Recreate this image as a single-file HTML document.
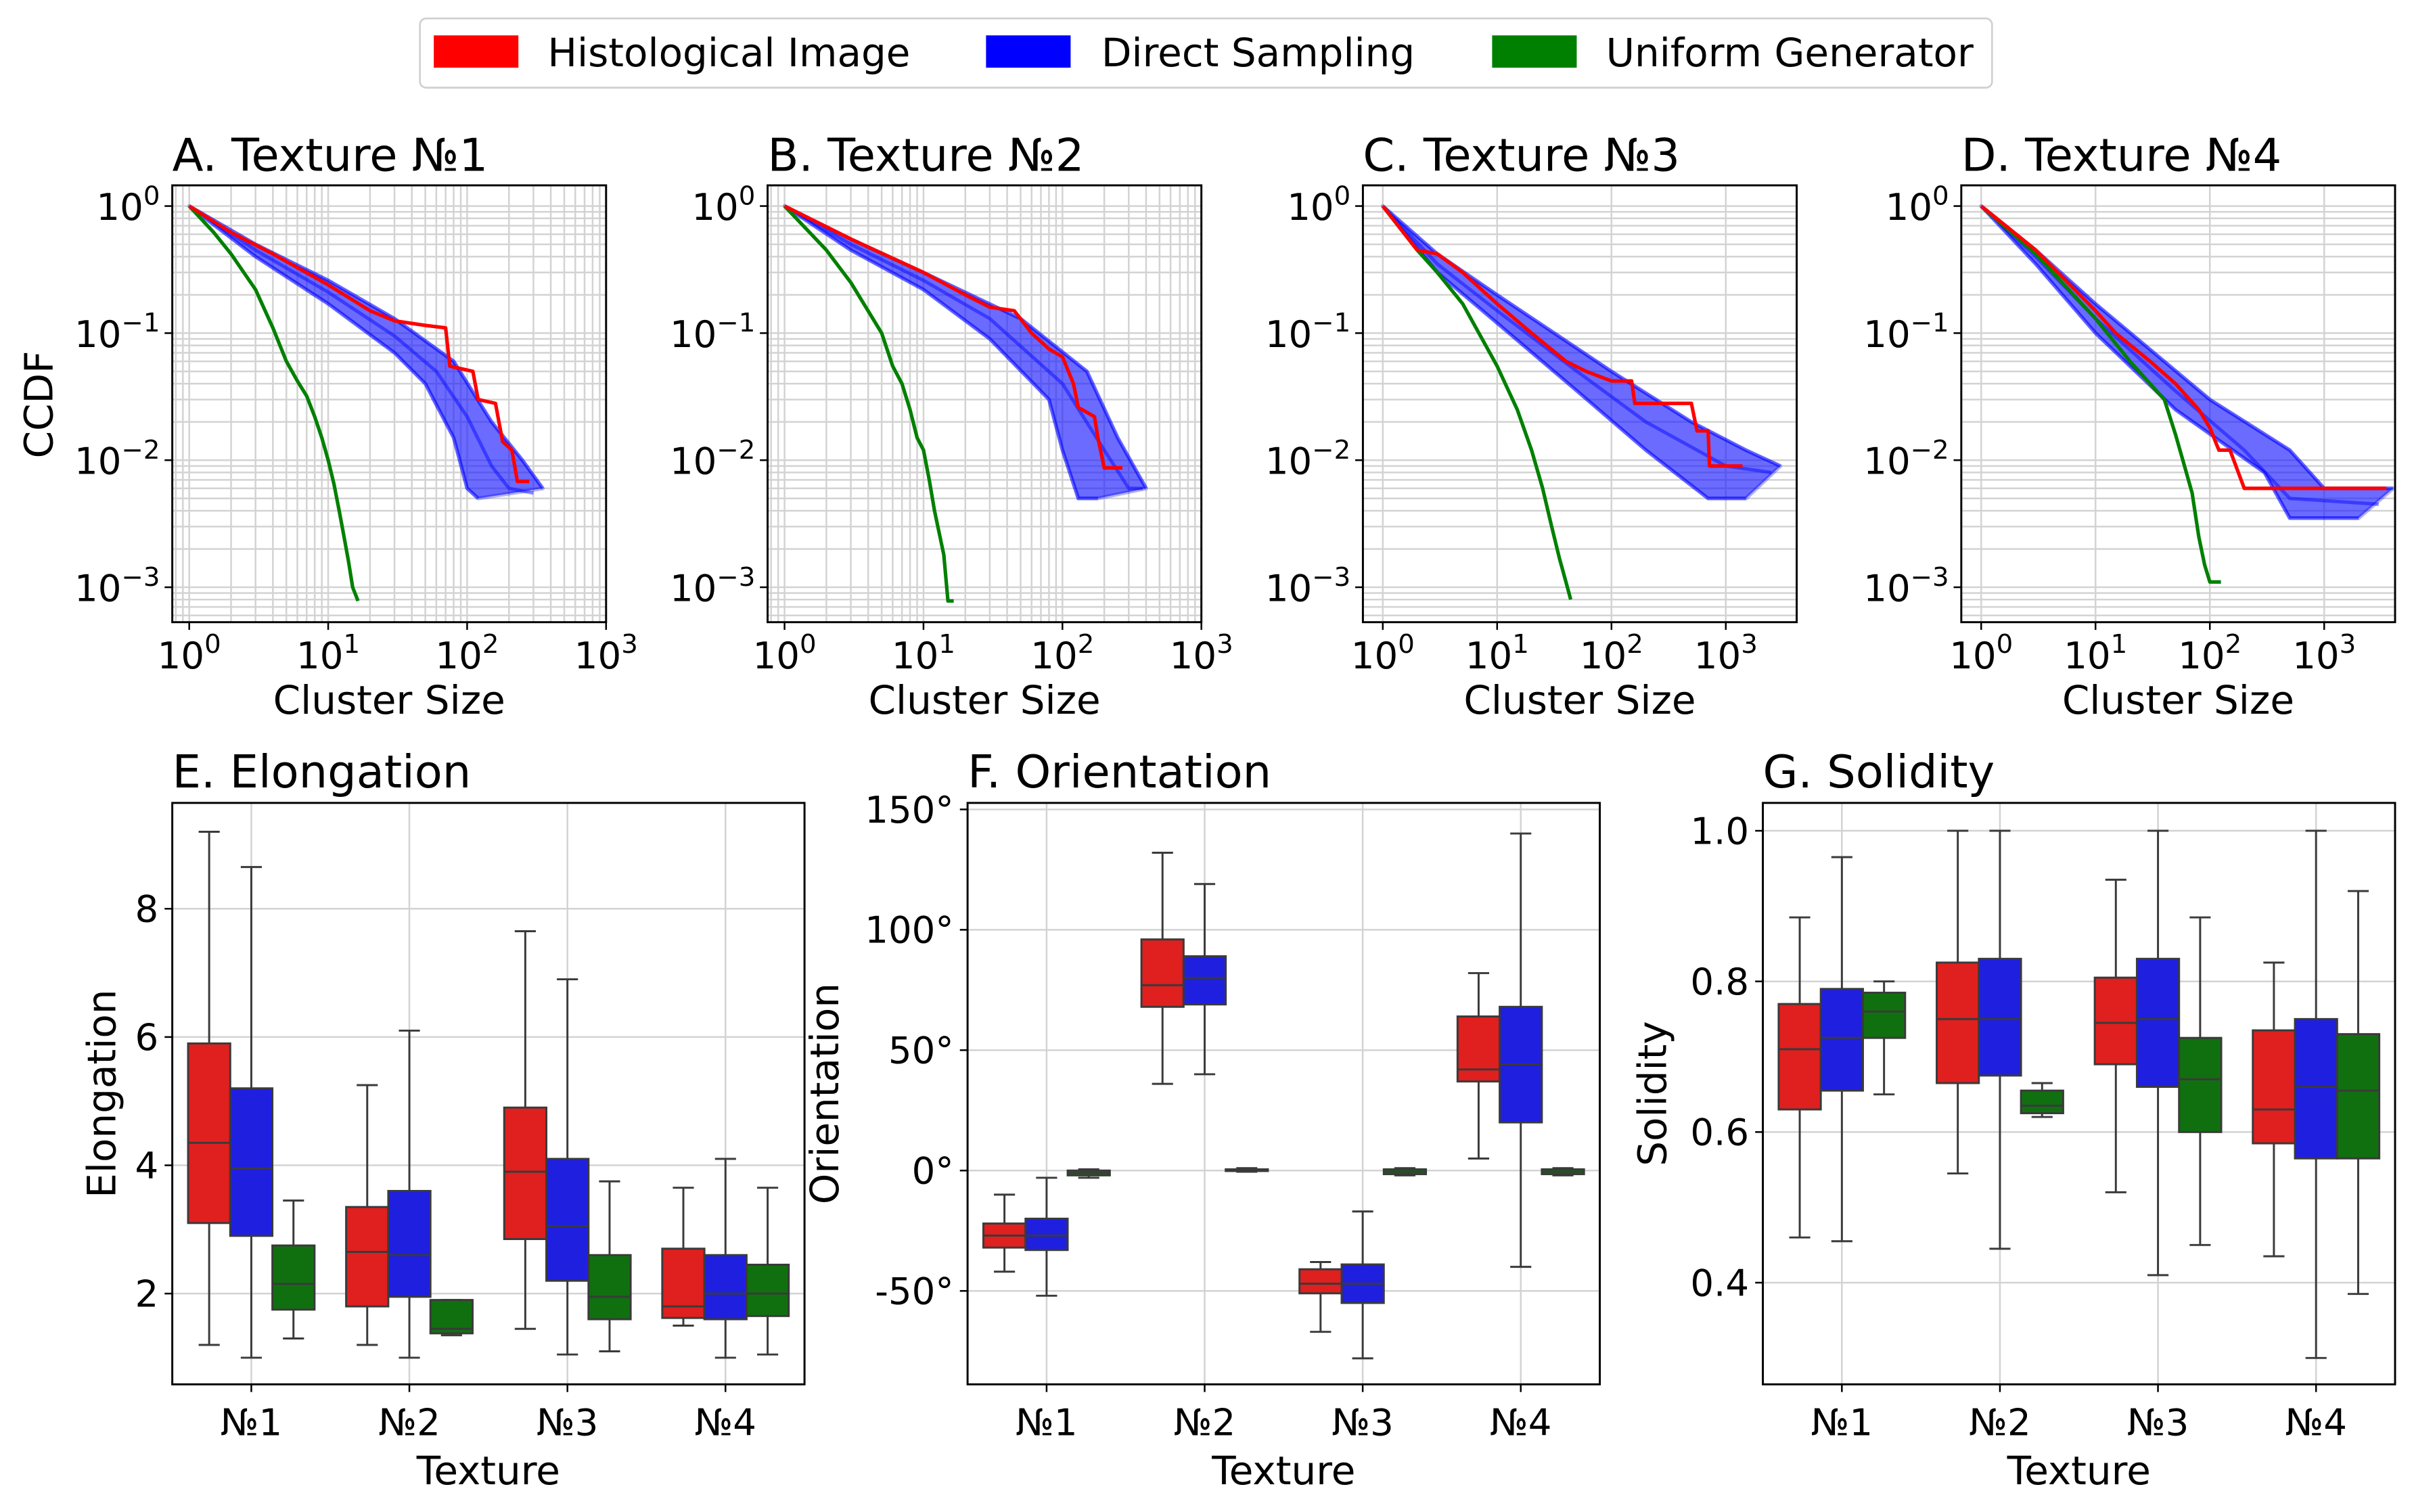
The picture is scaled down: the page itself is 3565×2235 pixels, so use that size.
<!DOCTYPE html>
<html><head><meta charset="utf-8">
<style>
html,body{margin:0;padding:0;background:#fff;}
svg{display:block;font-family:"DejaVu Sans","Liberation Sans",sans-serif;}
</style></head>
<body>
<svg id="fig" width="3565" height="2235" viewBox="0 0 1568 983" preserveAspectRatio="none" xmlns="http://www.w3.org/2000/svg">
<rect x="0" y="0" width="1568" height="983" fill="#fff"/>
<g>
<rect x="273" y="12" width="1022" height="45" rx="4" fill="#fff" stroke="#d0d0d0" stroke-width="1.2"/>
<g><rect x="282" y="23" width="55" height="21" fill="#ff0000"/><text x="356" y="43" font-size="25.5">Histological Image</text></g>
<g><rect x="641" y="23" width="55" height="21" fill="#0000ff"/><text x="716" y="43" font-size="25.5">Direct Sampling</text></g>
<g><rect x="970" y="23" width="55" height="21" fill="#008000"/><text x="1044" y="43" font-size="25.5">Uniform Generator</text></g>
</g>
<g id="plots"></g>
</svg>
<script>
// ---------- CCDF data (cluster size, ccdf) ----------
const ccdfTitles = ["A. Texture №1","B. Texture №2","C. Texture №3","D. Texture №4"];
const redA = [[1,1],[2,0.62],[4,0.42],[10,0.24],[20,0.15],[30,0.125],[50,0.115],[70,0.11],[75,0.055],[110,0.05],[120,0.03],[160,0.028],[180,0.014],[210,0.012],[230,0.0068],[280,0.0068]];
const greenA = [[1,1],[1.5,0.62],[2,0.42],[3,0.22],[4,0.11],[5,0.06],[6,0.042],[7,0.032],[8,0.022],[9,0.015],[10,0.01],[11,0.0065],[12,0.004],[13,0.0025],[14,0.0016],[15,0.001],[16.4,0.00078]];
const blueHiA = [[1,1],[3,0.5],[10,0.26],[30,0.13],[80,0.06],[150,0.02],[250,0.01],[350,0.006]];
const blueMidA = [[1,1],[3,0.45],[10,0.21],[30,0.095],[60,0.05],[100,0.022],[150,0.009],[200,0.006],[300,0.0055]];
const blueLoA = [[1,1],[3,0.4],[10,0.17],[30,0.07],[50,0.04],[80,0.015],[100,0.006],[120,0.005]];

const redB = [[1,1],[3,0.55],[10,0.3],[20,0.2],[30,0.16],[45,0.15],[60,0.1],[80,0.075],[100,0.065],[120,0.04],[130,0.026],[170,0.022],[180,0.015],[200,0.0087],[270,0.0087]];
const greenB = [[1,1],[2,0.45],[3,0.25],[5,0.1],[6,0.055],[7,0.04],[8,0.025],[9,0.015],[10,0.012],[11,0.007],[12,0.004],[14,0.0018],[15,0.00078],[16.5,0.00078]];
const blueHiB = [[1,1],[3,0.55],[10,0.3],[50,0.13],[150,0.05],[250,0.015],[400,0.006]];
const blueMidB = [[1,1],[3,0.5],[10,0.26],[30,0.13],[100,0.04],[200,0.012],[300,0.006],[380,0.006]];
const blueLoB = [[1,1],[3,0.45],[10,0.22],[30,0.09],[80,0.03],[100,0.012],[130,0.005],[180,0.005]];

const redC = [[1,1],[2,0.45],[3,0.42],[5,0.3],[10,0.17],[20,0.1],[40,0.06],[60,0.05],[100,0.042],[150,0.042],[160,0.028],[500,0.028],[560,0.017],[700,0.017],[720,0.009],[1400,0.009]];
const greenC = [[1,1],[2,0.45],[3,0.3],[5,0.17],[10,0.055],[15,0.025],[20,0.012],[25,0.006],[30,0.003],[35,0.0017],[40,0.0011],[44,0.0008]];
const blueHiC = [[1,1],[3,0.42],[10,0.2],[100,0.05],[500,0.02],[1500,0.012],[3000,0.009]];
const blueMidC = [[1,1],[3,0.35],[10,0.15],[50,0.05],[200,0.02],[1000,0.009],[2500,0.008]];
const blueLoC = [[1,1],[3,0.3],[10,0.12],[50,0.035],[200,0.012],[700,0.005],[1500,0.005]];

const redD = [[1,1],[3,0.45],[10,0.15],[15,0.1],[30,0.06],[50,0.04],[80,0.025],[100,0.018],[120,0.012],[150,0.012],[200,0.006],[3500,0.006]];
const greenD = [[1,1],[3,0.42],[10,0.13],[20,0.06],[40,0.03],[50,0.016],[60,0.009],[70,0.0055],[80,0.0025],[90,0.0015],[100,0.0011],[125,0.0011]];
const blueHiD = [[1,1],[3,0.45],[10,0.17],[100,0.03],[500,0.012],[1000,0.006],[4000,0.006]];
const blueMidD = [[1,1],[3,0.4],[10,0.13],[50,0.035],[200,0.012],[500,0.005],[3000,0.0045]];
const blueLoD = [[1,1],[3,0.35],[10,0.1],[50,0.025],[300,0.008],[500,0.0035],[2000,0.0035]];

const ccdfRed = [redA, redB, redC, redD];
const ccdfGreen = [greenA, greenB, greenC, greenD];
const ccdfBlueHi = [blueHiA, blueHiB, blueHiC, blueHiD];
const ccdfBlueMid = [blueMidA, blueMidB, blueMidC, blueMidD];
const ccdfBlueLo = [blueLoA, blueLoB, blueLoC, blueLoD];
const xTickExps = [0,1,2,3];
const yTickExps = [0,-1,-2,-3];

// ---------- Box plot data: [whiskerLo, q1, median, q3, whiskerHi] ----------
const textures = ["№1","№2","№3","№4"];
const elongRed = [[1.2,3.1,4.35,5.9,9.2],[1.2,1.8,2.65,3.35,5.25],[1.45,2.85,3.9,4.9,7.65],[1.5,1.62,1.8,2.7,3.65]];
const elongBlue = [[1.0,2.9,3.95,5.2,8.65],[1.0,1.95,2.6,3.6,6.1],[1.05,2.2,3.05,4.1,6.9],[1.0,1.6,2.0,2.6,4.1]];
const elongGreen = [[1.3,1.75,2.15,2.75,3.45],[1.35,1.38,1.45,1.9,1.9],[1.1,1.6,1.95,2.6,3.75],[1.05,1.65,2.0,2.45,3.65]];
const elongTicks = [2,4,6,8];
const orientRed = [[-42,-32,-27,-22,-10],[36,68,77,96,132],[-67,-51,-47,-41,-38],[5,37,42,64,82]];
const orientBlue = [[-52,-33,-27,-20,-3],[40,69,80,89,119],[-78,-55,-47,-39,-17],[-40,20,44,68,140]];
const orientGreen = [[-3,-2,-1,0,0.5],[-0.5,-0.2,0.2,0.5,1],[-2,-1.5,-0.5,0.5,1],[-2,-1.5,-0.5,0.5,1]];
const orientTicks = [-50,0,50,100,150];
const solidRed = [[0.46,0.63,0.71,0.77,0.885],[0.545,0.665,0.75,0.825,1.0],[0.52,0.69,0.745,0.805,0.935],[0.435,0.585,0.63,0.735,0.825]];
const solidBlue = [[0.455,0.655,0.725,0.79,0.965],[0.445,0.675,0.75,0.83,1.0],[0.41,0.66,0.75,0.83,1.0],[0.3,0.565,0.66,0.75,1.0]];
const solidGreen = [[0.65,0.725,0.76,0.785,0.8],[0.62,0.625,0.635,0.655,0.665],[0.45,0.6,0.67,0.725,0.885],[0.385,0.565,0.655,0.73,0.92]];
const solidTicks = [0.4,0.6,0.8,1.0];

const NS = "http://www.w3.org/2000/svg";
const root = document.getElementById("plots");
function mk(tag, attrs, parent){
  const e = document.createElementNS(NS, tag);
  for (const k in attrs) e.setAttribute(k, attrs[k]);
  (parent||root).appendChild(e);
  return e;
}

// ---------- CCDF panels ----------
const panelLeft = [112, 499, 886, 1275];
const panelW = 282, panelTop = 120.5, panelBot = 404.5;
const xLims = [[-0.122,3.0],[-0.122,3.0],[-0.174,3.62],[-0.174,3.62]];
const yLim = [-3.275, 0.163];
const minorX = [true, true, false, false];

for (let p = 0; p < 4; p++) {
  const L = panelLeft[p], R = L + panelW;
  const g = mk("g", {});
  
  
  const xs = v => L + (Math.log10(v) - xLims[p][0]) / (xLims[p][1] - xLims[p][0]) * panelW;
  const ys = v => panelBot - (Math.log10(v) - yLim[0]) / (yLim[1] - yLim[0]) * (panelBot - panelTop);
  const clipId = "clip" + p;
  const cp = mk("clipPath", {id: clipId}, g);
  mk("rect", {x: L, y: panelTop, width: panelW, height: panelBot - panelTop}, cp);
  const grid = mk("g", {stroke: "#d3d3d3", "stroke-width": 1.1, "clip-path": "url(#"+clipId+")"}, g);
  
  
  for (let e = -4; e <= 4; e++) {
    for (let m = 1; m <= 9; m++) {
      const v = m * Math.pow(10, e);
      const lv = Math.log10(v);
      if (lv >= yLim[0] && lv <= yLim[1]) mk("line", {x1: L, x2: R, y1: ys(v), y2: ys(v)}, grid);
      if (lv >= xLims[p][0] && lv <= xLims[p][1] && (m === 1 || minorX[p])) mk("line", {x1: xs(v), x2: xs(v), y1: panelTop, y2: panelBot}, grid);
    }
  }
  const series = mk("g", {"clip-path": "url(#"+clipId+")", fill: "none", "stroke-linejoin": "round"}, g);
  const toPts = arr => arr.map(d => xs(d[0]).toFixed(2) + "," + ys(d[1]).toFixed(2)).join(" ");
  const band = ccdfBlueHi[p].concat(ccdfBlueLo[p].slice().reverse());
  const bandEl = mk("polygon", {points: toPts(band), fill: "#1010ff", "fill-opacity": 0.62, stroke: "#0000ff", "stroke-opacity": 0.3, "stroke-width": 2.5}, series);
  
  
  [ccdfBlueHi[p], ccdfBlueMid[p], ccdfBlueLo[p]].forEach(arr => {
    const l = mk("polyline", {points: toPts(arr), stroke: "#0000ff", "stroke-opacity": 0.45, "stroke-width": 2.2}, series);
    
    
  });
  const gl = mk("polyline", {points: toPts(ccdfGreen[p]), stroke: "#008000", "stroke-width": 2.3}, series);
  
  
  const rl = mk("polyline", {points: toPts(ccdfRed[p]), stroke: "#ff0000", "stroke-width": 2.3}, series);
  
  
  const fr = mk("rect", {x: L, y: panelTop, width: panelW, height: panelBot - panelTop, fill: "none", stroke: "#000", "stroke-width": 1.3}, g);
  
  
  xTickExps.forEach(e => {
    const x = xs(Math.pow(10, e));
    mk("line", {x1: x, x2: x, y1: panelBot, y2: panelBot + 5, stroke: "#000", "stroke-width": 1.1}, g);
    const t = mk("text", {x: x, y: panelBot + 30, "font-size": 24, "text-anchor": "middle"}, g);
    
    
    t.innerHTML = '10<tspan dy="-10" font-size="17">' + e + '</tspan>';
  });
  yTickExps.forEach(e => {
    const y = ys(Math.pow(10, e));
    mk("line", {x1: L - 5, x2: L, y1: y, y2: y, stroke: "#000", "stroke-width": 1.1}, g);
    const t = mk("text", {x: L - 8, y: y + 9, "font-size": 24, "text-anchor": "end"}, g);
    
    
    t.innerHTML = '10<tspan dy="-10" font-size="17">' + (e < 0 ? '\u2212' + (-e) : e) + '</tspan>';
  });
  const title = mk("text", {x: L, y: 111, "font-size": 29.5}, g);
  
  
  title.textContent = ccdfTitles[p];
  const xl = mk("text", {x: L + panelW/2, y: 464, "font-size": 25.5, "text-anchor": "middle"}, g);
  
  
  xl.textContent = "Cluster Size";
  if (p === 0) {
    const yl = mk("text", {x: 0, y: 0, "font-size": 25.5, "text-anchor": "middle", transform: "translate(34,263) rotate(-90)"}, g);
    
    
    yl.textContent = "CCDF";
  }
}

// ---------- Box panels ----------
const boxPanels = [
  {L:112, title:"E. Elongation", ylabel:"Elongation", lim:[0.585,9.65], ticks:elongTicks, fmt:v=>String(v), data:[elongRed,elongBlue,elongGreen], ylx:76},
  {L:629, title:"F. Orientation", ylabel:"Orientation", lim:[-88.8,152.7], ticks:orientTicks, fmt:v=>(v<0?'-'+(-v):v)+'°', data:[orientRed,orientBlue,orientGreen], ylx:546},
  {L:1146, title:"G. Solidity", ylabel:"Solidity", lim:[0.265,1.037], ticks:solidTicks, fmt:v=>v.toFixed(1), data:[solidRed,solidBlue,solidGreen], ylx:1084}
];
const boxColors = ["#e01f1f","#1f1fe0","#107010"];
const bTop = 522, bBot = 900, bW = 411;
boxPanels.forEach((bp, pi) => {
  const L = bp.L, R = L + bW;
  const g = mk("g", {});
  
  
  const ys = v => bBot - (v - bp.lim[0]) / (bp.lim[1] - bp.lim[0]) * (bBot - bTop);
  const band = bW / 4;
  const xc = i => L + band * (i + 0.5);
  bp.ticks.forEach(v => mk("line", {x1: L, x2: R, y1: ys(v), y2: ys(v), stroke: "#d3d3d3", "stroke-width": 1.1}, g));
  textures.forEach((t, i) => mk("line", {x1: xc(i), x2: xc(i), y1: bTop, y2: bBot, stroke: "#d3d3d3", "stroke-width": 1.1}, g));
  const bw = band * 0.8 / 3;
  bp.data.forEach((series, si) => {
    series.forEach((d, i) => {
      const cx = xc(i) - band*0.4 + bw*(si + 0.5);
      const bg = mk("g", {stroke: "#3a3a3a", "stroke-width": 1.3}, g);
      
      
      mk("line", {x1: cx, x2: cx, y1: ys(d[0]), y2: ys(d[1])}, bg);
      mk("line", {x1: cx, x2: cx, y1: ys(d[3]), y2: ys(d[4])}, bg);
      mk("line", {x1: cx - bw/4, x2: cx + bw/4, y1: ys(d[0]), y2: ys(d[0])}, bg);
      mk("line", {x1: cx - bw/4, x2: cx + bw/4, y1: ys(d[4]), y2: ys(d[4])}, bg);
      mk("rect", {x: cx - bw/2, y: ys(d[3]), width: bw, height: Math.max(ys(d[1]) - ys(d[3]), 0.5), fill: boxColors[si]}, bg);
      mk("line", {x1: cx - bw/2, x2: cx + bw/2, y1: ys(d[2]), y2: ys(d[2])}, bg);
    });
  });
  const fr = mk("rect", {x: L, y: bTop, width: bW, height: bBot - bTop, fill: "none", stroke: "#000", "stroke-width": 1.3}, g);
  
  
  bp.ticks.forEach(v => {
    mk("line", {x1: L - 5, x2: L, y1: ys(v), y2: ys(v), stroke: "#000", "stroke-width": 1.1}, g);
    const t = mk("text", {x: L - 9, y: ys(v) + 8.5, "font-size": 24, "text-anchor": "end"}, g);
    
    
    t.textContent = bp.fmt(v);
  });
  textures.forEach((tx, i) => {
    mk("line", {x1: xc(i), x2: xc(i), y1: bBot, y2: bBot + 5, stroke: "#000", "stroke-width": 1.1}, g);
    const t = mk("text", {x: xc(i), y: 933, "font-size": 24, "text-anchor": "middle"}, g);
    
    
    t.textContent = tx;
  });
  const title = mk("text", {x: L, y: 512, "font-size": 29.5}, g);
  
  
  title.textContent = bp.title;
  const xl = mk("text", {x: L + bW/2, y: 965, "font-size": 25.5, "text-anchor": "middle"}, g);
  
  
  xl.textContent = "Texture";
  const yl = mk("text", {x: 0, y: 0, "font-size": 25.5, "text-anchor": "middle", transform: "translate(" + (bp.ylx - 1) + "," + ((bTop+bBot)/2) + ") rotate(-90)"}, g);
  
  
  yl.textContent = bp.ylabel;
});
</script>
</body></html>
